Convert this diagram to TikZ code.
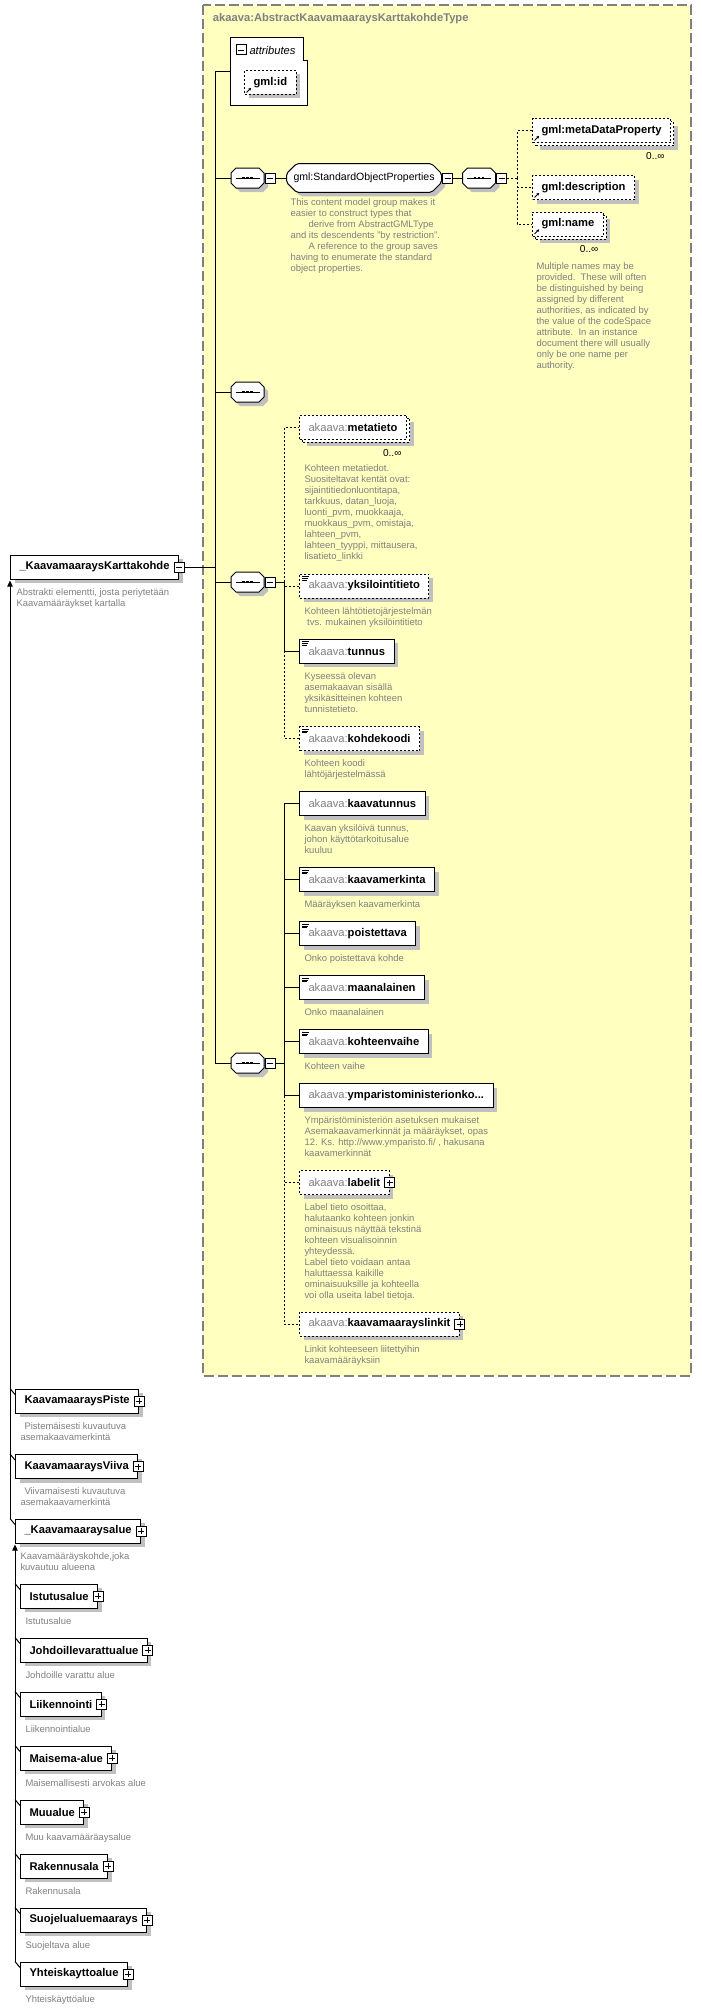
\documentclass[tikz,border=0pt]{standalone}
\usepackage{fontspec}
\setmainfont{Liberation Sans}
\usetikzlibrary{shapes.misc,positioning,calc,shadows,arrows.meta}
\definecolor{typefill}{RGB}{255,255,192}
\definecolor{typeborder}{RGB}{128,128,128}
\definecolor{notegray}{RGB}{128,128,128}
\definecolor{prefixgray}{RGB}{128,128,128}
\definecolor{shadowgray}{RGB}{192,192,192}
\newcommand{\ak}[1]{{\mdseries\color{prefixgray}akaava:}#1}
% octagon of a sequence compositor, drawn from its centre
\newcommand{\octapath}{++(-11.5,-10) -- ++(23,0) -- ++(5,5) -- ++(0,10) -- ++(-5,5) -- ++(-23,0) -- ++(-5,-5) -- ++(0,-10) -- cycle}
\newcommand{\seqnode}[2]{%
  \node[seqspot] (#1) at (#2) {};
  \fill[shadowgray] ([shift={(3pt,-3pt)}]#1.center) \octapath;
  \draw[fill=white] (#1.center) \octapath;
  \draw ([xshift=-9pt]#1.center) -- ([xshift=9pt]#1.center);
  \foreach \d in {-3,0,3} \fill[black] ([xshift=\d pt]#1.center) +(-0.95pt,-0.95pt) rectangle +(0.95pt,0.95pt);}

\begin{document}
\begin{tikzpicture}[
    x=0.75pt, y=-0.75pt, line width=0.75pt,
    elem/.style={rectangle, draw, fill=white, anchor=west, minimum height=18pt, inner xsep=6.75pt, inner ysep=0pt, font=\fontsize{8.4}{10}\selectfont\bfseries},
    opt/.style={dash pattern=on 1.5pt off 1.5pt},
    shad/.style={general shadow={fill=shadowgray, shadow xshift=3pt, shadow yshift=-3pt}},
    multi/.style={general shadow={fill=shadowgray, shadow xshift=5.25pt, shadow yshift=-5.25pt}, copy shadow={shadow xshift=2.25pt, shadow yshift=-2.25pt}},
    seqspot/.style={minimum width=24.75pt, minimum height=15pt, inner sep=0pt},
    grp/.style={chamfered rectangle, chamfered rectangle xsep=3.75pt, chamfered rectangle ysep=3.75pt, rounded corners=1.5pt, draw, fill=white, anchor=west, minimum height=18pt, inner xsep=1.5pt, font=\fontsize{7.9}{10}\selectfont, shad},
    minusbox/.style={draw, fill=white, solid, minimum size=7.5pt, inner sep=0pt, path picture={\draw[solid, line width=0.6pt] ([xshift=1.5pt]path picture bounding box.west) -- ([xshift=-1.5pt]path picture bounding box.east);}},
    plusbox/.style={draw, fill=white, solid, minimum size=7.5pt, inner sep=0pt, path picture={\draw[solid, line width=0.6pt] ([xshift=1.5pt]path picture bounding box.west) -- ([xshift=-1.5pt]path picture bounding box.east) ([yshift=1.5pt]path picture bounding box.south) -- ([yshift=-1.5pt]path picture bounding box.north);}},
    refmark/.style={path picture={\draw[solid, line width=0.6pt, -{Triangle[length=2pt,width=2pt]}] ([shift={(1.5pt,1.5pt)}]path picture bounding box.south west) -- ++(3.5pt,3.5pt);}},
    simplemark/.style={path picture={\draw[solid, line width=0.5pt] ([shift={(1.8pt,-2pt)}]path picture bounding box.north west) -- ++(5pt,0pt) ([shift={(1.8pt,-3.3pt)}]path picture bounding box.north west) -- ++(4.5pt,0pt) ([shift={(1.8pt,-4.6pt)}]path picture bounding box.north west) -- ++(3.5pt,0pt);}},
    desc/.style={anchor=north west, align=left, inner sep=0pt, text=notegray, font=\fontsize{7.1}{8.25}\selectfont},
    mult/.style={anchor=north east, inner sep=0pt, font=\fontsize{7.6}{9}\selectfont},
    inherit/.style={-{Triangle[length=4.5pt,width=4pt]}}
]
\useasboundingbox (0,0) rectangle (701,2009);

% complex type frame
\draw[fill=typefill, draw=typeborder, line width=0.9pt, dash pattern=on 7.5pt off 3pt] (203,5) rectangle (691,1376);
\node[anchor=west, text=typeborder, font=\fontsize{8.4}{10}\selectfont\bfseries] (typetitle) at (208,19) {akaava:AbstractKaavamaaraysKarttakohdeType};

% attributes
\node[minimum width=57pt, minimum height=50.25pt, inner sep=0pt] (attrs) at (269,71.5) {};
\draw[fill=white] (attrs.south west) -- (attrs.north west) -- ($(attrs.north east)+(-4,0)$) -- ($(attrs.north east)+(-4,23)$) -- ($(attrs.north east)+(0,23)$) -- (attrs.south east) -- cycle;
\node[minusbox] (attrsm) at (241,50) {};
\node[anchor=west, inner sep=0pt, font=\fontsize{8.4}{10}\selectfont\itshape] (attrslabel) at (249,50) {attributes};
\node[elem, opt, refmark, shad] (gmlid) at (244,82.5) {gml:id};

% standard object properties
\seqnode{seq1}{247.5,178}
\node[minusbox] (seq1m) at ($(seq1.east)+(5.5,0)$) {};
\node[grp] (sop) at (286,178) {gml:StandardObjectProperties};
\node[minusbox] (sopm) at ($(sop.east)+(5.5,0)$) {};
\node[desc] (sopnote) at ($(sop.south -| sop.west)+(4,5.5)$) {This content model group makes it\\easier to construct types that\\\hspace*{13.5pt}derive from AbstractGMLType\\and its descendents \symbol{34}by restriction\symbol{34}.\\\hspace*{13.5pt}A reference to the group saves\\having to enumerate the standard\\object properties.};
\seqnode{seq2}{479,178}
\node[minusbox] (seq2m) at ($(seq2.east)+(5.5,0)$) {};

\node[elem, opt, refmark, multi] (metadata) at (532,130.5) {gml:metaDataProperty};
\node[mult, below left=6.4pt and 4.5pt of metadata.south east] (metadatamult) {0..∞};
\node[elem, opt, refmark, shad] (descr) at (532,187.5) {gml:description};
\node[elem, opt, refmark, multi] (gmlname) at (532,224) {gml:name};
\node[mult, below left=6.4pt and 3.75pt of gmlname.south east] (gmlnamemult) {0..∞};
\node[desc, below right=19pt and 3pt of gmlname.south west] (gmlnamenote) {Multiple names may be\\provided.\ \ These will often\\be distinguished by being\\assigned by different\\authorities, as indicated by\\the value of the codeSpace\\attribute.\ \ In an instance\\document there will usually\\only be one name per\\authority.};

% empty sequence
\seqnode{seq3}{247.5,392}

% global element
\node[elem, shad] (kohde) at (10,567) {\_KaavamaaraysKarttakohde\hspace{3pt}};
\node[minusbox] (kohdem) at (kohde.east) {};
\node[desc, below right=6.4pt and 4.5pt of kohde.south west] (kohdenote) {Abstrakti elementti, josta periytetään\\Kaavamääräykset kartalla};

% first sequence of own elements
\seqnode{seq4}{247.5,582}
\node[minusbox] (seq4m) at ($(seq4.east)+(5.5,0)$) {};
\node[elem, opt, multi] (metatieto) at (299,427) {\ak{metatieto}};
\node[mult, below left=6.75pt and 3.75pt of metatieto.south east] (metatietomult) {0..∞};
\node[desc, below right=18.4pt and 3.75pt of metatieto.south west] (metatietonote) {Kohteen metatiedot.\\Suositeltavat kentät ovat:\\sijaintitiedonluontitapa,\\tarkkuus, datan\_luoja,\\luonti\_pvm, muokkaaja,\\muokkaus\_pvm, omistaja,\\lahteen\_pvm,\\lahteen\_tyyppi, mittausera,\\lisatieto\_linkki};
\node[elem, opt, simplemark, shad] (yksi) at (299,586) {\ak{yksilointitieto}};
\node[desc, below right=6.4pt and 3.75pt of yksi.south west] (yksinote) {Kohteen lähtötietojärjestelmän\\\hspace*{2pt}tvs. mukainen yksilöintitieto};
\node[elem, simplemark, shad] (tunnus) at (299,651) {\ak{tunnus}};
\node[desc, below right=6.4pt and 3.75pt of tunnus.south west] (tunnusnote) {Kyseessä olevan\\asemakaavan sisällä\\yksikäsitteinen kohteen\\tunnistetieto.};
\node[elem, opt, simplemark, shad] (kohdekoodi) at (299,738.5) {\ak{kohdekoodi}};
\node[desc, below right=6.4pt and 3.75pt of kohdekoodi.south west] (kohdekoodinote) {Kohteen koodi\\lähtöjärjestelmässä};

% second sequence of own elements
\seqnode{seq5}{247.5,1063}
\node[minusbox] (seq5m) at ($(seq5.east)+(5.5,0)$) {};
\node[elem, shad] (kaavatunnus) at (299,803.5) {\ak{kaavatunnus}};
\node[desc, below right=6.4pt and 3.75pt of kaavatunnus.south west] (kaavatunnusnote) {Kaavan yksilöivä tunnus,\\johon käyttötarkoitusalue\\kuuluu};
\node[elem, simplemark, shad] (kaavamerkinta) at (299,879.5) {\ak{kaavamerkinta}};
\node[desc, below right=6.4pt and 3.75pt of kaavamerkinta.south west] (kaavamerkintanote) {Määräyksen kaavamerkinta};
\node[elem, simplemark, shad] (poistettava) at (299,933.5) {\ak{poistettava}};
\node[desc, below right=6.4pt and 3.75pt of poistettava.south west] (poistettavanote) {Onko poistettava kohde};
\node[elem, simplemark, shad] (maanalainen) at (299,987.5) {\ak{maanalainen}};
\node[desc, below right=6.4pt and 3.75pt of maanalainen.south west] (maanalainennote) {Onko maanalainen};
\node[elem, simplemark, shad] (kohteenvaihe) at (299,1041.5) {\ak{kohteenvaihe}};
\node[desc, below right=6.4pt and 3.75pt of kohteenvaihe.south west] (kohteenvaihenote) {Kohteen vaihe};
\node[elem, shad] (ympar) at (299,1095.5) {\ak{ymparistoministerionko...}};
\node[desc, below right=6.4pt and 3.75pt of ympar.south west] (ymparnote) {Ympäristöministeriön asetuksen mukaiset\\Asemakaavamerkinnät ja määräykset, opas\\12. Ks. http://www.ymparisto.fi/ , hakusana\\kaavamerkinnät};
\node[elem, opt, shad] (labelit) at (299,1182.5) {\ak{labelit}\hspace{3pt}};
\node[plusbox] (labelitp) at (labelit.east) {};
\node[desc, below right=6.4pt and 3.75pt of labelit.south west] (labelitnote) {Label tieto osoittaa,\\halutaanko kohteen jonkin\\ominaisuus näyttää tekstinä\\kohteen visualisoinnin\\yhteydessä.\\Label tieto voidaan antaa\\haluttaessa kaikille\\ominaisuuksille ja kohteella\\voi olla useita label tietoja.};
\node[elem, opt, shad] (linkit) at (299,1324) {\ak{kaavamaarayslinkit}\hspace{3pt}};
\node[plusbox] (linkitp) at (linkit.east) {};
\node[desc, below right=6.4pt and 3.75pt of linkit.south west] (linkitnote) {Linkit kohteeseen liitettyihin\\kaavamääräyksiin};

% derived elements
\node[elem, shad] (piste) at (15,1401) {KaavamaaraysPiste\hspace{3pt}};
\node[plusbox] (pistep) at (piste.east) {};
\node[desc, below right=6.4pt and 3.75pt of piste.south west] (pistenote) {\hspace*{3pt}Pistemäisesti kuvautuva\\asemakaavamerkintä};
\node[elem, shad] (viiva) at (15,1466.5) {KaavamaaraysViiva\hspace{3pt}};
\node[plusbox] (viivap) at (viiva.east) {};
\node[desc, below right=6.4pt and 3.75pt of viiva.south west] (viivanote) {\hspace*{3pt}Viivamaisesti kuvautuva\\asemakaavamerkintä};
\node[elem, shad] (alue) at (15,1531) {\_Kaavamaaraysalue\hspace{3pt}};
\node[plusbox] (aluep) at (alue.east) {};
\node[desc, below right=6.4pt and 3.75pt of alue.south west] (aluenote) {Kaavamääräyskohde,joka\\kuvautuu alueena};

\node[elem, shad] (istutus) at (20,1596) {Istutusalue\hspace{3pt}};
\node[plusbox] (istutusp) at (istutus.east) {};
\node[desc, below right=6.4pt and 3.75pt of istutus.south west] (istutusnote) {Istutusalue};
\node[elem, shad] (johdot) at (20,1650) {Johdoillevarattualue\hspace{3pt}};
\node[plusbox] (johdotp) at (johdot.east) {};
\node[desc, below right=6.4pt and 3.75pt of johdot.south west] (johdotnote) {Johdoille varattu alue};
\node[elem, shad] (liikenne) at (20,1704) {Liikennointi\hspace{3pt}};
\node[plusbox] (liikennep) at (liikenne.east) {};
\node[desc, below right=6.4pt and 3.75pt of liikenne.south west] (liikennenote) {Liikennointialue};
\node[elem, shad] (maisema) at (20,1758) {Maisema-alue\hspace{3pt}};
\node[plusbox] (maisemap) at (maisema.east) {};
\node[desc, below right=6.4pt and 3.75pt of maisema.south west] (maisemanote) {Maisemallisesti arvokas alue};
\node[elem, shad] (muu) at (20,1812) {Muualue\hspace{3pt}};
\node[plusbox] (muup) at (muu.east) {};
\node[desc, below right=6.4pt and 3.75pt of muu.south west] (muunote) {Muu kaavamääräaysalue};
\node[elem, shad] (rakennus) at (20,1866) {Rakennusala\hspace{3pt}};
\node[plusbox] (rakennusp) at (rakennus.east) {};
\node[desc, below right=6.4pt and 3.75pt of rakennus.south west] (rakennusnote) {Rakennusala};
\node[elem, shad] (suojelu) at (20,1920) {Suojelualuemaarays\hspace{3pt}};
\node[plusbox] (suojelup) at (suojelu.east) {};
\node[desc, below right=6.4pt and 3.75pt of suojelu.south west] (suojelunote) {Suojeltava alue};
\node[elem, shad] (yhteis) at (20,1974) {Yhteiskayttoalue\hspace{3pt}};
\node[plusbox] (yhteisp) at (yhteis.east) {};
\node[desc, below right=6.4pt and 3.75pt of yhteis.south west] (yhteisnote) {Yhteiskäyttöalue};

% Connectors
\draw (attrs.west) -- ++(-15,0) coordinate (trunk) |- (seq5.west);
\draw (seq1.west) -- (seq1.west -| trunk);
\draw (seq3.west) -- (seq3.west -| trunk);
\draw (seq4.west) -- (seq4.west -| trunk);
\draw (kohdem.east) -- (kohdem.east -| trunk);

\draw (seq1m.east) -- (sop.west);
\draw (sopm.east) -- (seq2.west);
\draw[opt] (seq2m.east) -- ++(10,0) coordinate (b2);
\draw[opt] (b2) |- (metadata.west);
\draw[opt] (b2) |- (gmlname.west);
\draw[opt] (b2 |- descr.west) -- (descr.west);

\draw (seq4m.east) -- ++(9,0) coordinate (b4);
\draw[opt] (b4) |- (metatieto.west);
\draw[opt] (b4 |- yksi.west) -- (yksi.west);
\draw (b4) |- (tunnus.west);
\draw[opt] (b4 |- tunnus.west) |- (kohdekoodi.west);

\draw (seq5m.east) -- ++(9,0) coordinate (b5);
\draw (b5) |- (kaavatunnus.west);
\draw (b5 |- kaavamerkinta.west) -- (kaavamerkinta.west);
\draw (b5 |- poistettava.west) -- (poistettava.west);
\draw (b5 |- maanalainen.west) -- (maanalainen.west);
\draw (b5 |- kohteenvaihe.west) -- (kohteenvaihe.west);
\draw (b5) |- (ympar.west);
\draw[opt] (b5 |- ympar.west) |- (linkit.west);
\draw[opt] (b5 |- labelit.west) -- (labelit.west);

% substitution groups
\draw[inherit] (kohde.south west |- alue.north west) -- ([yshift=-0.75pt]kohde.south west);
\draw (kohde.south west |- piste.north west) -- ($(piste.north west)+(0,6)$);
\draw (kohde.south west |- viiva.north west) -- ($(viiva.north west)+(0,6)$);
\draw (kohde.south west |- alue.north west) -- ($(alue.north west)+(0,6)$);
\draw[inherit] (alue.south west |- yhteis.north west) -- ([yshift=-0.75pt]alue.south west);
\draw (alue.south west |- istutus.north west) -- ($(istutus.north west)+(0,6)$);
\draw (alue.south west |- johdot.north west) -- ($(johdot.north west)+(0,6)$);
\draw (alue.south west |- liikenne.north west) -- ($(liikenne.north west)+(0,6)$);
\draw (alue.south west |- maisema.north west) -- ($(maisema.north west)+(0,6)$);
\draw (alue.south west |- muu.north west) -- ($(muu.north west)+(0,6)$);
\draw (alue.south west |- rakennus.north west) -- ($(rakennus.north west)+(0,6)$);
\draw (alue.south west |- suojelu.north west) -- ($(suojelu.north west)+(0,6)$);
\draw (alue.south west |- yhteis.north west) -- ($(yhteis.north west)+(0,6)$);

\end{tikzpicture}
\end{document}
